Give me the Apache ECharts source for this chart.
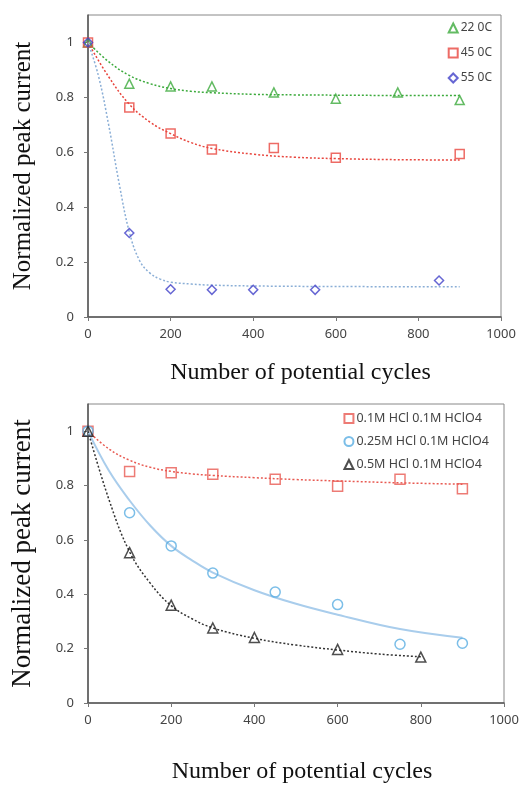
<!DOCTYPE html>
<html>
<head>
<meta charset="utf-8">
<script src="https://cdn.jsdelivr.net/npm/echarts@6/dist/echarts.min.js"></script>
<style>
html,body{margin:0;padding:0;background:#fff;}
#chart{width:530px;height:785px;}
</style>
</head>
<body>
<div id="chart"></div>
<script>
// ---------- Top chart data ----------
const topNames = ['22 0C', '45 0C', '55 0C'];
const t22x = [0, 100, 200, 300, 450, 600, 750, 900];
const t22y = [1.0, 0.85, 0.84, 0.84, 0.818, 0.795, 0.818, 0.79];
const t45x = [0, 100, 200, 300, 450, 600, 900];
const t45y = [1.0, 0.763, 0.668, 0.61, 0.616, 0.58, 0.594];
const t55x = [0, 100, 200, 300, 400, 550, 850];
const t55y = [1.0, 0.306, 0.101, 0.099, 0.099, 0.099, 0.133];
// fitted curves
const f22x = [0, 50, 100, 150, 200, 250, 300, 400, 500, 600, 750, 900];
const f22y = [1.0, 0.93, 0.88, 0.85, 0.832, 0.822, 0.817, 0.811, 0.809, 0.808, 0.807, 0.807];
const f45x = [0, 50, 100, 150, 200, 250, 300, 400, 500, 600, 750, 900];
const f45y = [1.0, 0.875, 0.775, 0.71, 0.668, 0.635, 0.614, 0.593, 0.582, 0.577, 0.573, 0.572];
const f55x = [0, 25, 50, 75, 100, 125, 150, 175, 200, 250, 300, 400, 600, 900];
const f55y = [1.0, 0.88, 0.70, 0.49, 0.31, 0.205, 0.16, 0.138, 0.127, 0.12, 0.116, 0.113, 0.111, 0.11];

// ---------- Bottom chart data ----------
const botNames = ['0.1M HCl 0.1M HClO4', '0.25M HCl 0.1M HClO4', '0.5M HCl 0.1M HClO4'];
const b01x = [0, 100, 200, 300, 450, 600, 750, 900];
const b01y = [1.0, 0.852, 0.847, 0.842, 0.823, 0.797, 0.823, 0.788];
const b025x = [0, 100, 200, 300, 450, 600, 750, 900];
const b025y = [1.0, 0.70, 0.578, 0.478, 0.408, 0.362, 0.216, 0.22];
const b05x = [0, 100, 200, 300, 400, 600, 800];
const b05y = [1.0, 0.553, 0.36, 0.276, 0.241, 0.197, 0.169];
const g01x = [0, 50, 100, 150, 200, 250, 300, 400, 500, 600, 750, 900];
const g01y = [1.0, 0.935, 0.893, 0.867, 0.852, 0.843, 0.837, 0.829, 0.822, 0.817, 0.81, 0.805];
const g025x = [0, 50, 100, 150, 200, 250, 300, 400, 500, 600, 750, 900];
const g025y = [1.0, 0.855, 0.745, 0.652, 0.578, 0.525, 0.48, 0.415, 0.365, 0.325, 0.272, 0.24];
const g05x = [0, 50, 100, 150, 200, 250, 300, 400, 500, 600, 700, 800];
const g05y = [1.0, 0.75, 0.556, 0.44, 0.358, 0.31, 0.276, 0.238, 0.213, 0.195, 0.18, 0.17];

// ---------- Axis ticks ----------
const xTicks = [0, 200, 400, 600, 800, 1000];
const yTicks = [0, 0.2, 0.4, 0.6, 0.8, 1];

const zip = (xs, ys) => xs.map((x, i) => [x, ys[i]]);

const labelFont = {fontFamily: 'Noto Sans', fontSize: 13, color: '#444'};
const serif = 'Liberation Serif';

function xAxisDef(gridIndex, gap) {
  return {
    gridIndex, type: 'value', min: 0, max: 1000, interval: 200,
    name: 'Number of potential cycles', nameLocation: 'middle', nameGap: gap,
    nameTextStyle: {fontFamily: serif, fontSize: 24, color: '#111', padding: [0, 0, 0, 12]},
    axisLine: {show: true, lineStyle: {color: '#555', width: 1.5}},
    axisTick: {show: true, inside: false, length: 4, customValues: xTicks, lineStyle: {color: '#777'}},
    axisLabel: Object.assign({margin: 11, customValues: xTicks, formatter: v => String(v)}, labelFont),
    splitLine: {show: false}
  };
}
function yAxisDef(gridIndex, fs) {
  return {
    gridIndex, type: 'value', min: 0, max: 1.1,
    name: 'Normalized peak current', nameLocation: 'middle', nameGap: 52, nameRotate: 90,
    nameTextStyle: {fontFamily: serif, fontSize: fs, color: '#111'},
    axisLine: {show: true, onZero: false, lineStyle: {color: '#555', width: 1.5}},
    axisTick: {show: true, inside: false, length: 4, customValues: yTicks, lineStyle: {color: '#777'}},
    axisLabel: Object.assign({margin: 14, customValues: yTicks}, labelFont),
    splitLine: {show: false}
  };
}

function scatter(name, idx, data, symbol, color, size) {
  return {
    type: 'scatter', name, xAxisIndex: idx, yAxisIndex: idx, data,
    symbol, symbolSize: size, z: 5,
    itemStyle: {color: 'rgba(255,255,255,0)', borderColor: color, borderWidth: 1.5}
  };
}
function fit(idx, data, color, lineType, width) {
  return {
    type: 'line', name: 'fit', xAxisIndex: idx, yAxisIndex: idx, data,
    smooth: 0.4, showSymbol: false, symbol: 'none', z: 2,
    lineStyle: {color, type: lineType, width}, silent: true
  };
}

const C = {
  green: '#3caa3c', red: '#e8463e', blue: '#4040c8', blueFit: '#8aaed6',
  red2: '#e85a52', cyan: '#5aaee2', cyanFit: '#a9cdec', black: '#222222'
};

const option = {
  backgroundColor: '#ffffff',
  animation: false,
  grid: [
    {left: 88, top: 15, width: 413, height: 302, show: true, borderColor: '#888', borderWidth: 1, backgroundColor: '#fff'},
    {left: 88, top: 404, width: 416, height: 304, show: true, borderColor: '#888', borderWidth: 1, backgroundColor: '#fff'}
  ],
  xAxis: [xAxisDef(0, 44), xAxisDef(1, 57)],
  yAxis: [yAxisDef(0, 25), yAxisDef(1, 27)],
  legend: [
    {
      data: topNames, orient: 'vertical', right: 33, top: 17, itemGap: 13,
      itemWidth: 9, itemHeight: 9, align: 'left',
      textStyle: {fontFamily: 'Noto Sans', fontSize: 12, color: '#444', padding: [0, 0, 0, -2]}
    },
    {
      data: botNames, orient: 'vertical', right: 36, top: 407, itemGap: 10,
      itemWidth: 9, itemHeight: 9, align: 'left',
      textStyle: {fontFamily: 'Noto Sans', fontSize: 12.5, color: '#444', padding: [0, 0, 0, -2]}
    }
  ],
  series: [
    fit(0, zip(f22x, f22y), C.green, [2, 2], 1.5),
    fit(0, zip(f45x, f45y), C.red, [2, 2], 1.5),
    fit(0, zip(f55x, f55y), C.blueFit, [2, 2], 1.5),
    scatter(topNames[0], 0, zip(t22x, t22y), 'triangle', C.green, 9),
    scatter(topNames[1], 0, zip(t45x, t45y), 'rect', C.red, 9),
    scatter(topNames[2], 0, zip(t55x, t55y), 'diamond', C.blue, 9),

    fit(1, zip(g01x, g01y), C.red2, [2, 2], 1.5),
    fit(1, zip(g025x, g025y), C.cyanFit, 'solid', 2),
    fit(1, zip(g05x, g05y), '#333', [2, 2], 1.5),
    scatter(botNames[0], 1, zip(b01x, b01y), 'rect', C.red2, 10),
    scatter(botNames[1], 1, zip(b025x, b025y), 'circle', C.cyan, 10),
    scatter(botNames[2], 1, zip(b05x, b05y), 'triangle', C.black, 10)
  ]
};

const chart = echarts.init(document.getElementById('chart'), null, {renderer: 'canvas'});
chart.setOption(option);
</script>
</body>
</html>
